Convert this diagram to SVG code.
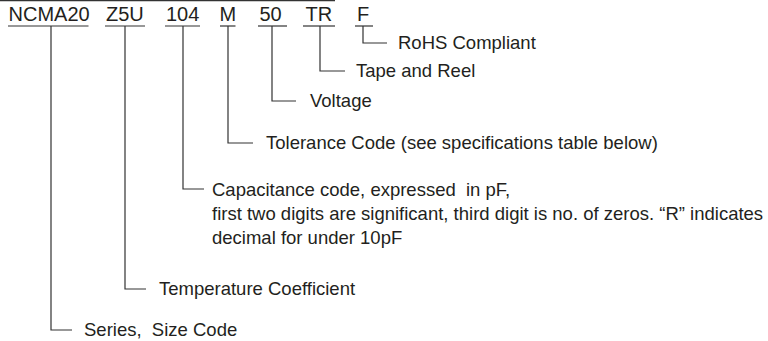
<svg xmlns="http://www.w3.org/2000/svg" width="768" height="341" viewBox="0 0 768 341">
<style>
text{font-family:"Liberation Sans",Arial,sans-serif;font-size:18.5px;fill:#231f20;white-space:pre}
.code{font-size:20px}
.ln{stroke:#333;stroke-width:1.2;fill:none}
</style>
<rect width="768" height="341" fill="#fff"/>
<line class="ln" x1="0" y1="0.6" x2="335" y2="0.6"/>
<g id="codes">
<g id="code-ncma20"><text class="code" x="8.5" y="20.5">NCMA20</text><line class="ln" x1="8" y1="26" x2="88.5" y2="26"/></g>
<g id="code-z5u"><text class="code" x="106" y="20.5">Z5U</text><line class="ln" x1="105" y1="26" x2="145" y2="26"/></g>
<g id="code-104"><text class="code" x="166" y="20.5">104</text><line class="ln" x1="165" y1="26" x2="200" y2="26"/></g>
<g id="code-m"><text class="code" x="219.5" y="20.5">M</text><line class="ln" x1="220" y1="26" x2="235.5" y2="26"/></g>
<g id="code-50"><text class="code" x="259.5" y="20.5">50</text><line class="ln" x1="258" y1="26" x2="287" y2="26"/></g>
<g id="code-tr"><text class="code" x="305.5" y="20.5">TR</text><line class="ln" x1="303" y1="26" x2="335" y2="26"/></g>
<g id="code-f"><text class="code" x="357" y="20.5">F</text><line class="ln" x1="355" y1="26" x2="373" y2="26"/></g>
</g>
<g id="connectors">
<polyline class="ln" points="51,26 51,330 72,330"/>
<polyline class="ln" points="125,26 125,289 146,289"/>
<polyline class="ln" points="183,26 183,189 204,189"/>
<polyline class="ln" points="228,26 228,143 253,143"/>
<polyline class="ln" points="272,26 272,101 296,101"/>
<polyline class="ln" points="320,26 320,71 345,71"/>
<polyline class="ln" points="363,26 363,43 387,43"/>
</g>
<g id="label-series"><text x="84" y="336">Series,  Size Code</text></g>
<g id="label-temp"><text x="159" y="295">Temperature Coefficient</text></g>
<g id="label-cap"><text x="212" y="196">Capacitance code, expressed  in pF,</text><text x="212" y="220">first two digits are significant, third digit is no. of zeros. “R” indicates</text><text x="212" y="244">decimal for under 10pF</text></g>
<g id="label-tol"><text x="266" y="149">Tolerance Code (see specifications table below)</text></g>
<g id="label-volt"><text x="310" y="107">Voltage</text></g>
<g id="label-tape"><text x="356" y="77">Tape and Reel</text></g>
<g id="label-rohs"><text x="398" y="49">RoHS Compliant</text></g>
</svg>
